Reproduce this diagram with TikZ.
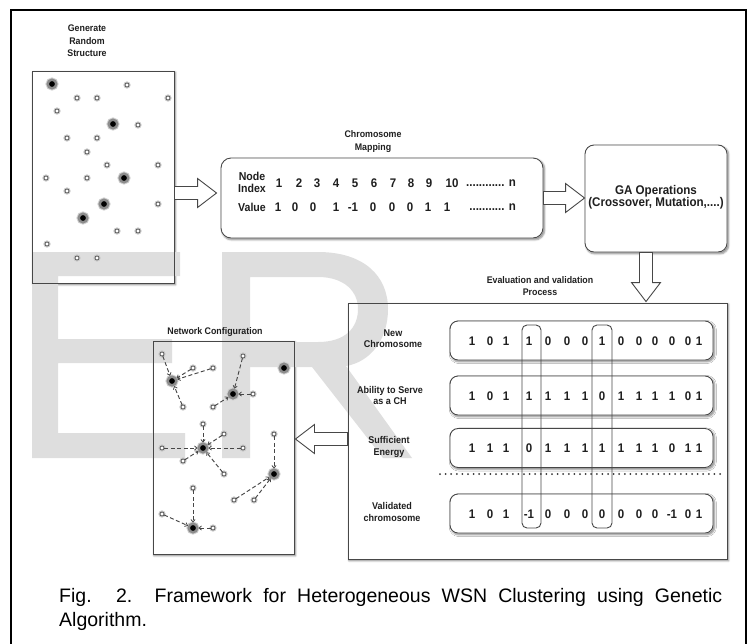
\documentclass[tikz,border=0pt]{standalone}
\usepackage{fontspec}
\setmainfont{Liberation Sans}[FakeStretch=0.92]
\newfontfamily\capfont{Liberation Sans}
\usetikzlibrary{calc,arrows.meta,shadows.blur}
\pgfdeclarelayer{shade}
\pgfdeclarelayer{mark}
\pgfsetlayers{shade,mark,main}

\tikzset{
  frameline/.style={line width=2pt, draw=black},
  boxline/.style={draw=black!72, line width=0.9pt},
  plainbox/.style={boxline, rectangle, inner sep=0pt},
  roundbox/.style={plainbox, rounded corners=9pt},
  boxshade/.style={fill=white, blur shadow={shadow xshift=1.3pt, shadow yshift=-1.5pt, shadow blur radius=1.6pt, shadow opacity=45}},
  title/.style={font=\bfseries\fontsize{9.6}{12.5}\selectfont, align=center, inner sep=0pt, text=black!88},
  rowlabel/.style={font=\bfseries\fontsize{9.8}{11.5}\selectfont, align=center, inner sep=0pt, text=black!88},
  digit/.style={font=\bfseries\fontsize{12.5}{14}\selectfont, inner sep=0pt, text=black!88},
  chnode/.style={circle, fill=black, draw=black!45, line width=2.4pt, minimum size=8.6pt, inner sep=0pt,
                 preaction={draw=black!18, line width=4.4pt}},
  snode/.style={circle, inner sep=0pt, minimum size=4pt, fill=white, draw=black!80, line width=0.6pt,
                preaction={draw=black!22, line width=3pt}},
  link/.style={draw=black!72, line width=0.95pt, dash pattern=on 4pt off 2.5pt,
               -{Straight Barb[length=2.4pt,width=4.2pt,line width=0.8pt]}},
  blockarrow/.style={draw=black!72, line width=0.9pt, fill=white, line join=miter},
  dotsep/.style={draw=black!80, line width=2pt, line cap=round, dash pattern=on 0pt off 5.6pt},
  watermark/.style={fill=black!13},
}

% hollow block arrow from #1 to #2 (tip at #2)
\newcommand\blockarrow[2]{%
  \draw[blockarrow] let \p1=(#1), \p2=(#2),
      \n1={atan2(\y2-\y1,\x2-\x1)}, \n2={veclen(\x2-\x1,\y2-\y1)} in
    [shift={(\p1)}, rotate=\n1]
    (0,-6.5) -- ({\n2-19},-6.5) -- ({\n2-19},-14.5) -- ({\n2},0) --
    ({\n2-19},14.5) -- ({\n2-19},6.5) -- (0,6.5) -- cycle;}

% one row of chromosome bits inside the evaluation panel
\newcommand\bitrow[3]{%
  \foreach \v [count=\c] in {#3} {
    \pgfmathsetmacro{\xx}{{472,490,506,529,548,567,585,602,621,639,655,672,688,699}[\c-1]}
    \node[digit] (#1\c) at (\xx,#2) {\v};
  }}

\begin{document}
\begin{tikzpicture}[x=1pt,y=-1pt]
\useasboundingbox (0,0) rectangle (751,643);

% outer frame
\draw[frameline] (11,645) -- (11,9.5) -- (746,9.5) -- (746,645);

% ---------- boxes ----------
\node[plainbox, minimum width=142pt, minimum height=212pt] (rand) at (103,177) {};
\node[roundbox, rounded corners=10pt, minimum width=322pt, minimum height=80pt] (chrom) at (382,198) {};
\node[roundbox, minimum width=142pt, minimum height=107pt] (ga) at (656,198.5) {};
\node[plainbox, minimum width=379pt, minimum height=256pt] (eval) at (537.5,431) {};
\foreach \n/\y in {row1/340.5,row2/395.5,row3/448,row4/513.5}
  \node[roundbox, rounded corners=8pt, minimum width=263pt, minimum height=39pt] (\n) at (581.5,\y) {};
\node[plainbox, minimum width=141pt, minimum height=213pt] (net) at (223.5,447.5) {};
\node[roundbox, rounded corners=5pt, minimum width=19pt, minimum height=203pt] (col1) at (531.5,426.5) {};
\node[roundbox, rounded corners=5pt, minimum width=20pt, minimum height=203pt] (col2) at (602,426.5) {};

% shadows and white faces of the boxes
\begin{pgfonlayer}{shade}
  \foreach \b in {rand,eval,net}
    \path[boxshade] (\b.south west) rectangle (\b.north east);
  \path[boxshade, rounded corners=10pt] (chrom.south west) rectangle (chrom.north east);
  \path[boxshade, rounded corners=9pt] (ga.south west) rectangle (ga.north east);
  \foreach \b in {row1,row2,row3,row4}
    \path[boxshade, rounded corners=8pt] (\b.south west) rectangle (\b.north east);
\end{pgfonlayer}

% large pale letters behind the content
\begin{pgfonlayer}{mark}
  \fill[watermark] (32,252) -- (180,252) -- (180,276) -- (58,276) -- (58,339) -- (172,339)
    -- (172,363) -- (58,363) -- (58,433) -- (185,433) -- (185,458) -- (32,458) -- cycle;
  \fill[watermark, even odd rule]
    (222,252) -- (318,252) .. controls (364,252) and (388,276) .. (388,309)
    .. controls (388,340) and (370,362) .. (346,366) -- (412,458) -- (383,458)
    -- (312,367) -- (250,367) -- (250,458) -- (222,458) -- cycle
    (250,277) -- (318,277) .. controls (345,277) and (358,292) .. (358,309)
    .. controls (358,328) and (345,342) .. (318,342) -- (250,342) -- cycle;
\end{pgfonlayer}

% ---------- titles ----------
\node[title] (tRand) at (87,41) {Generate\\Random\\Structure};
\node[title] (tChrom) at (373,141.5) {Chromosome\\Mapping};
\node[title] (tEval) at (540,286) {Evaluation and validation\\Process};
\node[title] (tNet) at (215,332) {Network Configuration};

% ---------- random deployment ----------
\foreach \x/\y [count=\i] in {52/84,113/124,124/178,104/204,83/218}
  \node[chnode] (rh\i) at (\x,\y) {};
\foreach \x/\y [count=\i] in {127/85,77/98,97/98,168/98,57/111,138/125,67/138,97/138,87/152,
    107/165,158/165,46/178,87/178,67/191,158/204,117/231,138/231,47/244,77/258,97/258}
  \node[snode] (rs\i) at (\x,\y) {};

% ---------- chromosome mapping ----------
\node[font=\bfseries\fontsize{11.5}{11.5}\selectfont, align=center, inner sep=0pt, text=black!88]
  (nidx) at (252,182.5) {Node\\Index};
\node[font=\bfseries\fontsize{11.5}{12}\selectfont, inner sep=0pt, text=black!88] (nval) at (252,207) {Value};
\foreach \x/\v [count=\i] in {279/1,299/2,317/3,336/4,355/5,374/6,393/7,411/8,429/9,452/10}
  \node[digit] (ix\i) at (\x,183) {\v};
\node[digit, anchor=east] (ixn) at (516,183) {............ n};
\foreach \x/\v [count=\i] in {278/1,295/0,313/0,336/1,353/-1,373/0,392/0,410/0,428/1,447/1}
  \node[digit] (va\i) at (\x,207) {\v};
\node[digit, anchor=east] (van) at (516,207) {........... n};

% ---------- GA operations ----------
\node[font=\bfseries\fontsize{12.6}{12.5}\selectfont, align=center, inner sep=0pt, text=black!88]
  (gatext) at (656,197) {GA Operations\\(Crossover, Mutation,....)};

% ---------- evaluation and validation ----------
\node[rowlabel] (lNew) at (393,338.5) {New\\Chromosome};
\node[rowlabel] (lAbl) at (390,395.5) {Ability to Serve\\as a CH};
\node[rowlabel] (lEng) at (389,447) {Sufficient\\Energy};
\node[rowlabel] (lVal) at (392,512) {Validated\\chromosome};
\bitrow{ba}{341}{1,0,1,1,0,0,0,1,0,0,0,0,0,1}
\bitrow{bb}{396}{1,0,1,1,1,1,1,0,1,1,1,1,0,1}
\bitrow{bc}{448.5}{1,1,1,0,1,1,1,1,1,1,1,0,1,1}
\bitrow{bd}{514}{1,0,1,-1,0,0,0,0,0,0,0,-1,0,1}
\coordinate (dotL) at (440,474);
\coordinate (dotR) at (722,474);
\draw[dotsep] (dotL) -- (dotR);

% ---------- network configuration ----------
\foreach \x/\y [count=\i] in {172/381,233/394,284/368,203/448,274/474,193/528}
  \node[chnode] (c\i) at (\x,\y) {};
\foreach \x/\y/\h [count=\i] in {162/354/1,193/368/1,213/368/1,183/407/1,
    243/356/2,253/394/2,213/407/2,
    203/424/4,224/434/4,162/448/4,243/448/4,183/461/4,224/474/4,
    274/434/5,234/500/5,254/500/5,
    193/488/6,162/514/6,213/528/6}
  {\node[snode] (m\i) at (\x,\y) {};
   \draw[link] (m\i) -- (c\h);}

% ---------- block arrows between stages ----------
\coordinate (a1s) at (rand.east |- 0,193);
\coordinate (a1e) at ($(chrom.west |- 0,193)+(-4,0)$);
\coordinate (a2s) at (chrom.east |- 0,198);
\coordinate (a2e) at (ga.west |- 0,198);
\coordinate (a3s) at (ga.south -| 646,0);
\coordinate (a3e) at ($(eval.north -| 646,0)+(0,-1)$);
\coordinate (a4s) at (eval.west |- 0,439);
\coordinate (a4e) at ($(net.east |- 0,439)+(1,0)$);
\blockarrow{a1s}{a1e}
\blockarrow{a2s}{a2e}
\blockarrow{a3s}{a3e}
\blockarrow{a4s}{a4e}

% ---------- caption ----------
\node[anchor=north west, text width=663pt, align=justify, inner sep=0pt,
      font=\capfont\fontsize{19.5}{24}\selectfont] (caption) at (59,588)
  {\hyphenpenalty=10000 Fig. 2.\ \ Framework for Heterogeneous WSN Clustering using Genetic\linebreak Algorithm.};
\end{tikzpicture}
\end{document}
